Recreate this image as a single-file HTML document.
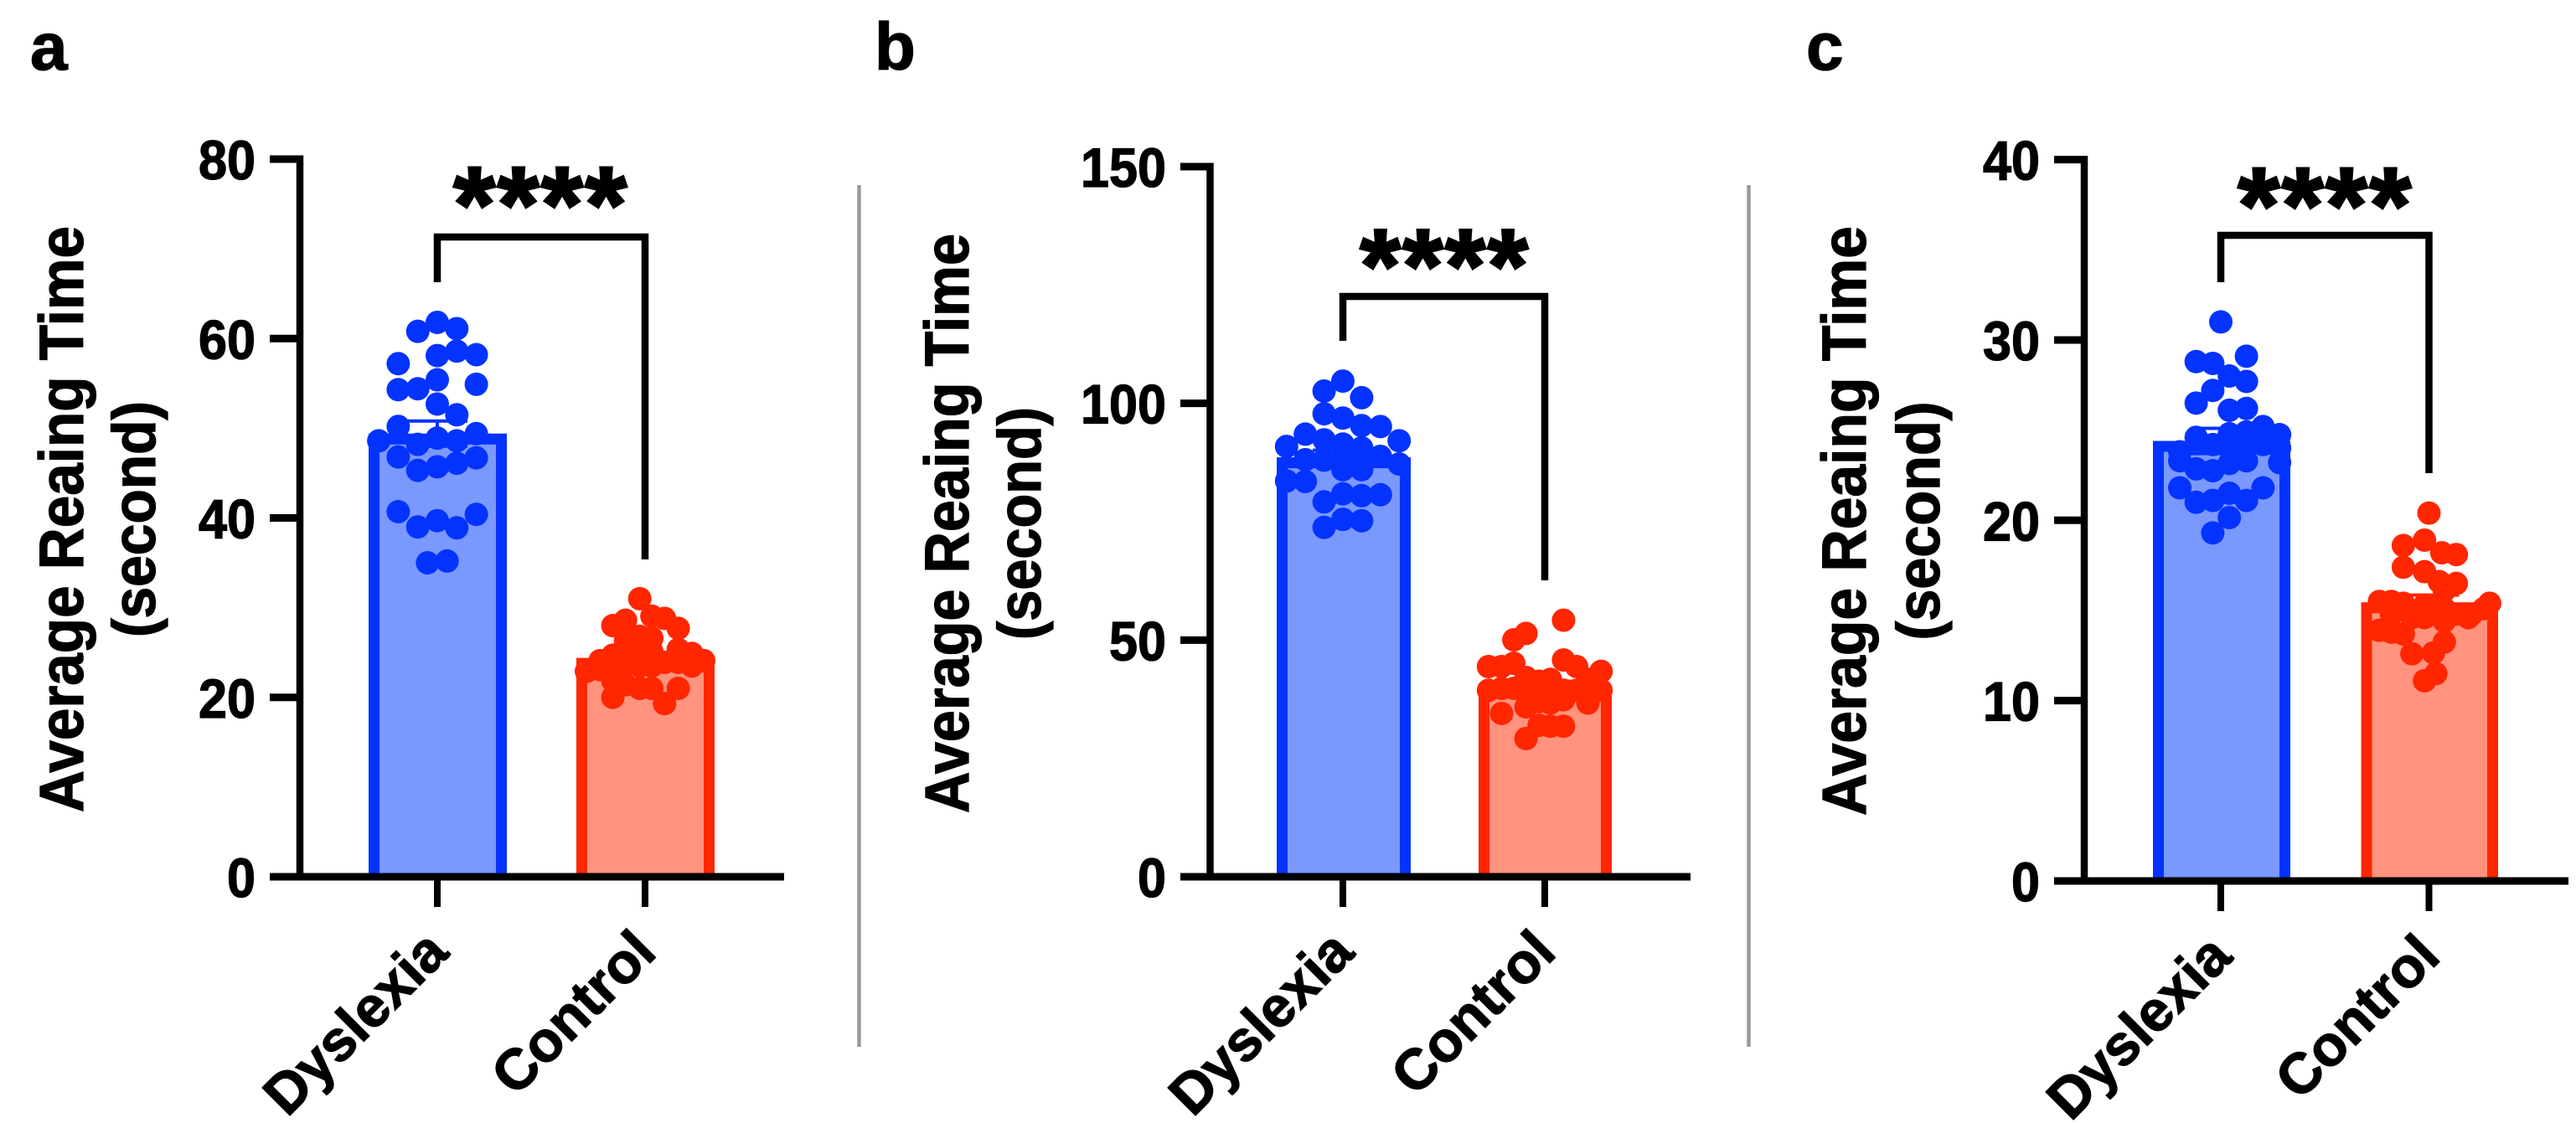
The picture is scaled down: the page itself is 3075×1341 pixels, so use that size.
<!DOCTYPE html>
<html>
<head>
<meta charset="utf-8">
<title>Average Reading Time panels</title>
<style>
html,body{margin:0;padding:0;background:#fff;width:3075px;height:1341px;overflow:hidden}
svg{display:block}
text{font-family:"Liberation Sans",sans-serif;font-weight:700;fill:#000;stroke:#000;stroke-width:1.3px}
</style>
</head>
<body>
<svg id="figure" xmlns="http://www.w3.org/2000/svg" width="3075" height="1341" viewBox="0 0 3075 1341"></svg>
<script>
// ---- data -------------------------------------------------------------
const categories = ['Dyslexia', 'Control'];

const aTicks = [0, 20, 40, 60, 80];
const aMeans = [49.4, 24.4];
const aSems = [1.4, 0.5];
const aDyslexiaValues = [61.8,60.8,61.1,58.1,58.6,58.2,57.2,55.4,54.9,54.3,54.4,52.7,51.5,50.2,49.4,48.6,48.9,48.6,48.2,46.8,46.7,46.1,45.7,45.3,40.7,40.4,39.7,39.0,38.9,35.2,35.0];
const aDyslexiaSlots = [0,-1,1,0,1,2,-2,0,2,-2,-1,0,1,-2,2,-3,0,1,-1,-2,2,1,0,-1,-2,2,0,-1,1,0.5,-0.5];
const aControlValues = [31.0,28.6,28.0,29.05,28.8,27.7,26.8,26.3,26.6,24.1,24.7,25.1,24.7,25.1,25.35,24.9,24.1,22.9,23.1,23.3,23.7,23.5,23.5,23.9,23.9,23.5,24.1,21.85,21.4,21.0,21.0,21.0,20.0,19.3,22.9];
const aControlSlots = [-0.27,-1,-1.65,0.35,1,1.7,-0.27,-1,0.35,-2.3,-1.65,-1,-0.27,0.35,1.7,2.4,3,-3,-2.3,-1.65,-1,-0.27,0.35,1,1.7,2.4,3,-1.65,-1,-0.27,0.35,1.7,-1.65,1,-3];

const bTicks = [0, 50, 100, 150];
const bMeans = [88.6, 40.3];
const bSems = [1.5, 1.0];
const bDyslexiaValues = [104.7,102.6,101.2,97.8,96.9,95.3,95.1,93.5,92.3,92.1,91.4,90.6,90.9,88.8,88.1,88.0,88.4,87.2,86.0,86.0,83.6,83.5,80.9,80.5,80.7,79.2,75.5,75.2,73.8];
const bDyslexiaSlots = [0,-1,1,-1,0,1,2,-2,-1,3,0,1,-3,2,-2,-1,0,3,1,0,-3,-2,0,1,2,-1,0,1,-1];
const bControlValues = [54.2,51.4,50.05,45.8,44.4,44.4,45.1,44.4,43.4,41.7,42.1,41.7,41.3,39.4,39.8,39.8,39.4,39.4,39.4,39.4,39.4,39.4,39.4,35.9,37.0,36.7,37.4,36.7,34.5,32.0,31.8,31.8,29.2];
const bControlSlots = [1,-1,-1.65,1,-3,-2.3,-1.65,1.7,3,2.3,-1,0.3,-0.3,-3,-2.3,-1.65,-1,-0.3,0.3,1,1.7,2.3,3,-1,-0.3,0.3,1,2.3,-2.3,-0.3,0.3,1,-1];

const cTicks = [0, 10, 20, 30, 40];
const cMeans = [24.4, 15.45];
const cSems = [0.7, 0.4];
const cDyslexiaValues = [31.0,29.1,28.8,28.7,28.0,27.7,27.2,26.5,26.2,26.1,25.2,24.75,24.9,24.8,24.6,24.2,24.2,24.0,24.1,23.8,23.2,23.3,23.15,22.85,22.75,23.3,21.8,21.8,21.5,21.0,21.1,21.1,20.15,19.3];
const cDyslexiaSlots = [0,1.5,-1.44,-0.47,0.5,1.5,-0.47,-1.44,1.5,0.5,2.47,3.44,1.5,0.5,-1.44,-0.47,2.47,3.44,0.5,-2.4,3.44,1.5,0.5,-1.44,-0.47,-2.4,-2.4,2.47,0.5,-1.44,-0.47,1.5,0.5,-0.47];
const cControlValues = [20.4,18.9,18.6,18.2,18.1,17.4,17.15,16.6,16.5,16.1,15.5,15.5,15.4,15.3,15.3,15.1,14.8,14.6,15.4,15.1,14.8,13.9,13.8,13.7,12.6,13.25,12.65,14.6,14.6,11.5,11.1,14.8,14.4];
const cControlSlots = [0,-0.26,-1.5,0.75,1.6,-1.5,-0.26,0.6,1.6,0.9,-2.9,-2.2,-1.5,-0.26,0.4,0.9,1.6,2.3,3.55,3.2,2.5,-2.9,-2.2,-1.5,-1,0.9,0.26,-0.26,-1,0.4,-0.26,-2.2,0.9];

const panels = [
  {id:'a', letterX:36, letterY:83, axisX:358, yZero:1047, yTop:190, max:80, tickLeft:322, axisEnd:936, tickX:[522,770],
   barEdges:[[440,605],[688,853]], slotW:23.3, titleX:99, title2X:185, titleY:620, titleLen:700, title2Len:282, bracketY:283, bracketEnds:[337,668], starsY:288, starsX:646, starFont:128,
   ticks:aTicks, means:aMeans, sems:aSems, values:[aDyslexiaValues,aControlValues], slots:[aDyslexiaSlots,aControlSlots]},
  {id:'b', letterX:1044, letterY:83, axisX:1444.5, yZero:1047, yTop:199, max:150, tickLeft:1409, axisEnd:2018, tickX:[1603,1844],
   barEdges:[[1524,1684],[1765,1924]], slotW:22.4, titleX:1156, title2X:1242, titleY:625, titleLen:692, title2Len:278, bracketY:354, bracketEnds:[407,693], starsY:360, starsX:1725, starFont:124,
   ticks:bTicks, means:bMeans, sems:bSems, values:[bDyslexiaValues,bControlValues], slots:[bDyslexiaSlots,bControlSlots]},
  {id:'c', letterX:2156, letterY:83, axisX:2488, yZero:1052, yTop:190.6, max:40, tickLeft:2452, axisEnd:3066, tickX:[2651,2899.5],
   barEdges:[[2570,2734],[2818.5,2982]], slotW:20.4, titleX:2227, title2X:2315, titleY:622, titleLen:704, title2Len:285, bracketY:281, bracketEnds:[337,565], starsY:289, starsX:2776, starFont:128,
   ticks:cTicks, means:cMeans, sems:cSems, values:[cDyslexiaValues,cControlValues], slots:[cDyslexiaSlots,cControlSlots]}
];

const strokeColors = ['#0433ff', '#ff2600'];
const fillColors = ['#7a99ff', '#ff937e'];
const separators = [1025.5, 2087.5];

// ---- drawing ----------------------------------------------------------
const svg = document.getElementById('figure');
const NS = 'http://www.w3.org/2000/svg';

function make(tag, attrs, parent) {
  const node = document.createElementNS(NS, tag);
  for (const k in attrs) node.setAttribute(k, attrs[k]);
  parent.appendChild(node);
  return node;
}

separators.forEach(function (x) {
  const el = make('line', {x1:x, x2:x, y1:221, y2:1250, stroke:'#999999', 'stroke-width':4.5}, svg);
  
  
});

panels.forEach(function (p) {
  const yScale = function (v) { return p.yZero - (v / p.max) * (p.yZero - p.yTop); };

  const group = make('g', {}, svg);
  
  

  const letter = make('text', {x:p.letterX, y:p.letterY, 'font-size':80}, group);
  letter.textContent = p.id;
  
  

  // bars, error bars, points
  categories.forEach(function (cat, i) {
    const left = p.barEdges[i][0], right = p.barEdges[i][1], sw = 13;
    const barTop = yScale(p.means[i]);
    const fill = make('rect', {x:left, width:right - left, y:barTop, height:p.yZero - barTop, fill:fillColors[i]}, group);
    
    

    const outlinePath = 'M' + (left + sw / 2) + ' ' + p.yZero + 'V' + (barTop + sw / 2) + 'H' + (right - sw / 2) + 'V' + p.yZero;
    const outline = make('path', {d:outlinePath, fill:'none', stroke:strokeColors[i], 'stroke-width':sw}, group);
    
    

    const cx = p.tickX[i];
    const errTop = yScale(p.means[i] + p.sems[i]);
    const errBottom = yScale(p.means[i] - p.sems[i]);
    const errPath = 'M' + (cx - 36) + ' ' + errTop + 'H' + (cx + 36) + 'M' + cx + ' ' + errTop + 'V' + errBottom + 'M' + (cx - 36) + ' ' + errBottom + 'H' + (cx + 36);
    const err = make('path', {d:errPath, fill:'none', stroke:strokeColors[i], 'stroke-width':4}, group);
    
    

    p.values[i].forEach(function (v, k) {
      const dot = make('circle', {cx:cx + p.slots[i][k] * p.slotW, cy:yScale(v), r:14, fill:strokeColors[i]}, group);
      
      
    });
  });

  // y axis
  const yAxis = make('line', {x1:p.axisX, x2:p.axisX, y1:yScale(p.max) - 4.5, y2:p.yZero + 4.5, stroke:'#000', 'stroke-width':8.5}, group);
  
  

  p.ticks.forEach(function (t) {
    const y = yScale(t);
    const tick = make('line', {x1:p.tickLeft, x2:p.axisX, y1:y, y2:y, stroke:'#000', 'stroke-width':9}, group);
    
    

    const text = String(t);
    const label = make('text', {x:p.tickLeft - 17, y:y + 24, 'font-size':66, 'text-anchor':'end', textLength:text.length * 34, lengthAdjust:'spacingAndGlyphs'}, group);
    label.textContent = text;
    
    
  });

  // x axis
  const xAxis = make('line', {x1:p.tickLeft, x2:p.axisEnd, y1:p.yZero, y2:p.yZero, stroke:'#000', 'stroke-width':9}, group);
  
  

  categories.forEach(function (cat, i) {
    const x = p.tickX[i];
    const tick = make('line', {x1:x, x2:x, y1:p.yZero, y2:p.yZero + 36, stroke:'#000', 'stroke-width':8}, group);
    
    

    const lx = x + 16, ly = p.yZero + 93;
    const label = make('text', {x:lx, y:ly, 'font-size':68, 'text-anchor':'end', transform:'rotate(-45 ' + lx + ' ' + ly + ')'}, group);
    label.textContent = cat;
    
    
  });

  // y axis title
  const title = make('text', {x:p.titleX, y:p.titleY, 'font-size':74, 'text-anchor':'middle', textLength:p.titleLen, lengthAdjust:'spacingAndGlyphs', transform:'rotate(-90 ' + p.titleX + ' ' + p.titleY + ')'}, group);
  title.textContent = 'Average Reaing Time';
  
  

  const sub = make('text', {x:p.title2X, y:p.titleY, 'font-size':72, 'text-anchor':'middle', textLength:p.title2Len, lengthAdjust:'spacingAndGlyphs', transform:'rotate(-90 ' + p.title2X + ' ' + p.titleY + ')'}, group);
  sub.textContent = '(second)';
  
  

  // significance bracket
  const bx1 = p.tickX[0], bx2 = p.tickX[1];
  const bracketPath = 'M' + bx1 + ' ' + p.bracketEnds[0] + 'V' + p.bracketY + 'H' + bx2 + 'V' + p.bracketEnds[1];
  const bracket = make('path', {d:bracketPath, fill:'none', stroke:'#000', 'stroke-width':8.5}, group);
  
  

  const stars = make('text', {x:p.starsX, y:p.starsY, 'font-size':p.starFont, 'text-anchor':'middle', 'letter-spacing':2.5, style:'stroke-width:3px'}, group);
  stars.textContent = '****';
  
  
});
</script>
</body>
</html>
